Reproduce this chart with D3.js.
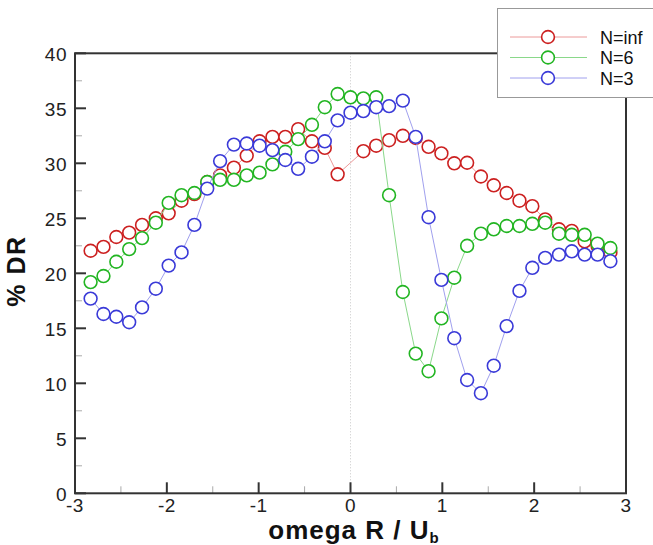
<!DOCTYPE html>
<html>
<head>
<meta charset="utf-8">
<script src="https://cdn.jsdelivr.net/npm/d3@7"></script>
<style>
  html, body { margin: 0; padding: 0; background: #fff; }
  svg { display: block; }
  text { font-family: "Liberation Sans", Arial, Helvetica, sans-serif; }
</style>
</head>
<body>
<div id="chart"></div>
<script>
// ---- data ----
const omega = [-2.83, -2.69, -2.55, -2.41, -2.27, -2.12, -1.98, -1.84, -1.70, -1.56,
               -1.42, -1.27, -1.13, -0.99, -0.85, -0.71, -0.57, -0.42, -0.28, -0.14,
                0.00,  0.14,  0.28,  0.42,  0.57,  0.71,  0.85,  0.99,  1.13,  1.27,
                1.42,  1.56,  1.70,  1.84,  1.98,  2.12,  2.27,  2.41,  2.55,  2.69, 2.83];

const drNinf = [22.05, 22.4, 23.3, 23.7, 24.4, 25.0, 25.45, 26.6, 27.2, 28.3,
                28.9, 29.6, 30.7, 32.0, 32.4, 32.4, 33.1, 32.0, 31.4, 29.0,
                null,
                31.1, 31.6, 32.1, 32.5, 32.3, 31.5, 30.9, 30.0, 30.05, 28.8,
                28.0, 27.3, 26.6, 26.1, 24.9, 24.0, 23.85, 22.9, 22.5, 21.9];

const drN6 = [19.2, 19.75, 21.05, 22.2, 23.2, 24.6, 26.4, 27.1, 27.3, 28.3,
              28.5, 28.5, 28.9, 29.15, 29.9, 31.05, 32.2, 33.5, 35.1, 36.3,
              36.0,
              35.9, 36.0, 27.1, 18.3, 12.7, 11.1, 15.9, 19.6, 22.5, 23.6,
              24.0, 24.3, 24.3, 24.5, 24.6, 23.6, 23.5, 23.5, 22.7, 22.3];

const drN3 = [17.7, 16.3, 16.05, 15.55, 16.9, 18.6, 20.7, 21.9, 24.4, 27.7,
              30.2, 31.7, 31.8, 31.6, 31.2, 30.3, 29.5, 30.6, 32.0, 33.9,
              34.6,
              34.75, 35.1, 35.2, 35.7, 32.4, 25.1, 19.4, 14.1, 10.3, 9.1,
              11.6, 15.2, 18.4, 20.5, 21.4, 21.7, 22.0, 21.7, 21.7, 21.1];

const seriesNames = ["N=inf", "N=6", "N=3"];
const xTicks = [-3, -2, -1, 0, 1, 2, 3];
const yTicks = [0, 5, 10, 15, 20, 25, 30, 35, 40];

// ---- styles ----
const markerColors = ["#cc2020", "#22b522", "#3a3ad8"];
const lineColors   = ["#ec9a9a", "#8ad88a", "#a0a0ee"];

const W = 653, H = 545;
const svg = d3.select("#chart").append("svg").attr("width", W).attr("height", H);
svg.append("rect").attr("width", W).attr("height", H).attr("fill", "#fff");

const x = d3.scaleLinear().domain([-3, 3]).range([75, 626]);
const y = d3.scaleLinear().domain([0, 40]).range([493.3, 53.3]);

// zero dotted line
svg.append("line")
  .attr("x1", x(0)).attr("x2", x(0)).attr("y1", y(40)).attr("y2", y(0))
  .attr("stroke", "#c8c8c8").attr("stroke-width", 1).attr("stroke-dasharray", "1,2");

// minor ticks
const yMinor = d3.range(2.5, 40, 5);
const xMinor = d3.range(-2.5, 3, 1);
svg.append("g").selectAll("line").data(yMinor).join("line")
  .attr("x1", x(-3)).attr("x2", x(-3) + 7).attr("y1", d => y(d)).attr("y2", d => y(d))
  .attr("stroke", "#aaa").attr("stroke-width", 1);
svg.append("g").selectAll("line").data(xMinor).join("line")
  .attr("x1", d => x(d)).attr("x2", d => x(d)).attr("y1", y(0)).attr("y2", y(0) - 7)
  .attr("stroke", "#aaa").attr("stroke-width", 1);

// major ticks
svg.append("g").selectAll("line").data(yTicks).join("line")
  .attr("x1", x(-3)).attr("x2", x(-3) + 11).attr("y1", d => y(d)).attr("y2", d => y(d))
  .attr("stroke", "#333").attr("stroke-width", 2);
svg.append("g").selectAll("line").data(xTicks).join("line")
  .attr("x1", d => x(d)).attr("x2", d => x(d)).attr("y1", y(0)).attr("y2", y(0) - 11)
  .attr("stroke", "#333").attr("stroke-width", 2);

// tick labels
svg.append("g").selectAll("text").data(yTicks).join("text")
  .attr("x", 67).attr("y", d => y(d) + 8)
  .attr("text-anchor", "end").attr("font-size", 19).attr("fill", "#222")
  .attr("letter-spacing", "0.5")
  .text(d => d);
svg.append("g").selectAll("text").data(xTicks).join("text")
  .attr("x", d => x(d)).attr("y", 512)
  .attr("text-anchor", "middle").attr("font-size", 19).attr("fill", "#222")
  .attr("letter-spacing", "0.5")
  .text(d => d);

// frame
svg.append("rect")
  .attr("x", x(-3)).attr("y", y(40)).attr("width", x(3) - x(-3)).attr("height", y(0) - y(40))
  .attr("fill", "none").attr("stroke", "#333").attr("stroke-width", 2);

// series
const allSeries = [drNinf, drN6, drN3];
const line = d3.line().x(d => x(d[0])).y(d => y(d[1]));
allSeries.forEach((vals, i) => {
  const pts = omega.map((o, j) => [o, vals[j]]).filter(p => p[1] !== null);
  const g = svg.append("g");
  g.append("path").datum(pts).attr("d", line)
    .attr("fill", "none").attr("stroke", lineColors[i]).attr("stroke-width", 1);
  g.selectAll("circle").data(pts).join("circle")
    .attr("cx", d => x(d[0])).attr("cy", d => y(d[1])).attr("r", 6.4)
    .attr("fill", "#fff").attr("stroke", markerColors[i]).attr("stroke-width", 1.6);
});

// axis titles
svg.append("text")
  .attr("transform", "translate(25,271) rotate(-90)")
  .attr("text-anchor", "middle").attr("font-size", 25).attr("font-weight", "bold")
  .attr("letter-spacing", "1.5").attr("fill", "#111")
  .text("% DR");

const xt = svg.append("text")
  .attr("x", 354).attr("y", 539)
  .attr("text-anchor", "middle").attr("font-size", 26).attr("font-weight", "bold")
  .attr("letter-spacing", "1").attr("fill", "#111");
xt.append("tspan").text("omega R / U");
xt.append("tspan").attr("dy", 4).attr("font-size", 15).text("b");

// legend
const lg = svg.append("g");
lg.append("rect").attr("x", 497.5).attr("y", 8.5).attr("width", 170).attr("height", 89)
  .attr("fill", "#fff").attr("stroke", "#999").attr("stroke-width", 1);
const rowsY = [37, 57.5, 78];
seriesNames.forEach((name, i) => {
  lg.append("line").attr("x1", 510).attr("x2", 587).attr("y1", rowsY[i]).attr("y2", rowsY[i])
    .attr("stroke", lineColors[i]).attr("stroke-width", 1);
  lg.append("circle").attr("cx", 548).attr("cy", rowsY[i]).attr("r", 6.4)
    .attr("fill", "#fff").attr("stroke", markerColors[i]).attr("stroke-width", 1.6);
  lg.append("text").attr("x", 600).attr("y", rowsY[i] + 6.5)
    .attr("font-size", 18).attr("fill", "#111").text(name);
});
</script>
</body>
</html>
